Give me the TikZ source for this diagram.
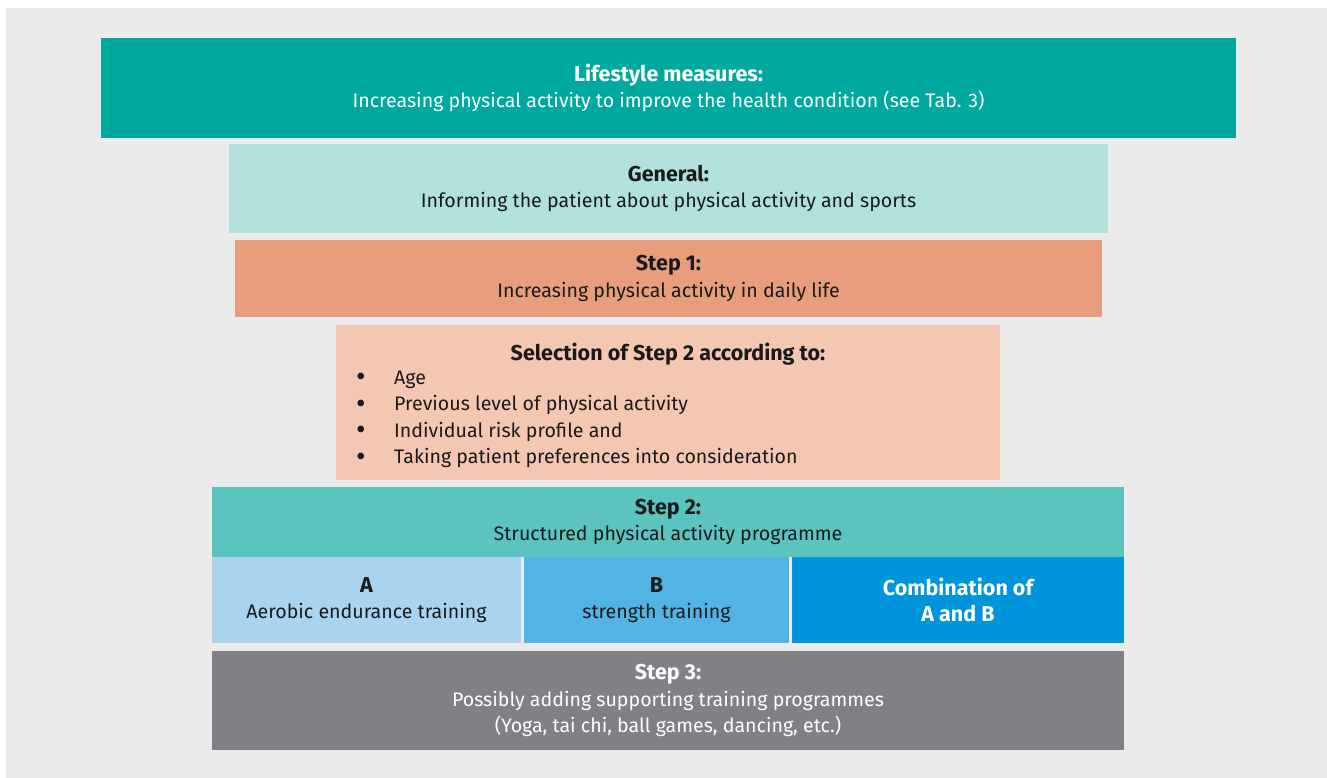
\documentclass[tikz,border=0pt]{standalone}
\usepackage{fontspec}
\usepackage{graphicx}
\setmainfont{Fira Sans}
\definecolor{fond}{HTML}{EBEBEB}
\definecolor{vert}{HTML}{00A99D}
\definecolor{vertclair}{HTML}{B2E0DD}
\definecolor{orange}{HTML}{E89E7D}
\definecolor{saumon}{HTML}{F3C7B2}
\definecolor{turquoise}{HTML}{5BC4BF}
\definecolor{bleuclair}{HTML}{AAD3F0}
\definecolor{bleu}{HTML}{52B3E5}
\definecolor{bleufonce}{HTML}{0095DB}
\definecolor{gris}{HTML}{808185}
\definecolor{texte}{HTML}{1A1A1A}
\newcommand{\titre}[1]{{\fontsize{21.5}{26.5}\selectfont\bfseries #1}}
\newcommand{\puce}{\makebox[38pt][l]{\raisebox{-0.12em}{\scalebox{1.5}{\textbullet}}}}

\begin{document}
\begin{tikzpicture}[x=1pt,y=-1pt]
\tikzset{bloc/.style={fill=#1,draw=none,inner sep=0pt,align=center,text=texte,
  font=\fontsize{19.6}{26.5}\selectfont},
bloc/.default={white}}
\useasboundingbox (0,0) rectangle (1327,778);
\fill[fond] (6,8) rectangle (1327,778);

\node[bloc=vert,text=white,minimum width=1135pt,minimum height=100pt] (lifestyle) at (668.5,88)
  {\titre{Lifestyle measures:}\\Increasing physical activity to improve the health condition (see Tab. 3)};
\node[bloc=vertclair,minimum width=879pt,minimum height=89pt] (general) at (668.5,188.5)
  {\titre{General:}\\Informing the patient about physical activity and sports};
\node[bloc=orange,minimum width=867pt,minimum height=77pt] (step1) at (668.5,278.5)
  {\titre{Step 1:}\\Increasing physical activity in daily life};

\node[bloc=saumon,minimum width=664pt,minimum height=155pt] (selection) at (668,402.5) {};
\node[bloc,fill=none] (seltitle) at (668,354) {\titre{Selection of Step 2 according to:}};
\node[bloc,fill=none,align=left,anchor=west] (sellist) at (356,419.5)
  {\puce Age\\
   \puce Previous level of physical activity\\
   \puce Individual risk profile and\\
   \puce Taking patient preferences into consideration};

\node[bloc=turquoise,minimum width=912pt,minimum height=70pt] (step2) at (668,522)
  {\titre{Step 2:}\\Structured physical activity programme};
\node[bloc=bleuclair,minimum width=309pt,minimum height=86pt] (progA) at (366.5,600)
  {\titre{A}\\Aerobic endurance training};
\node[bloc=bleu,minimum width=265pt,minimum height=86pt] (progB) at (656.5,600)
  {\titre{B}\\strength training};
\node[bloc=bleufonce,text=white,minimum width=332pt,minimum height=86pt] (progAB) at (958,600)
  {\titre{Combination of}\\\titre{A and B}};
\node[bloc=gris,text=white,minimum width=912pt,minimum height=99pt] (step3) at (668,700.5)
  {\titre{Step 3:}\\Possibly adding supporting training programmes\\(Yoga, tai chi, ball games, dancing, etc.)};

\end{tikzpicture}
\end{document}
